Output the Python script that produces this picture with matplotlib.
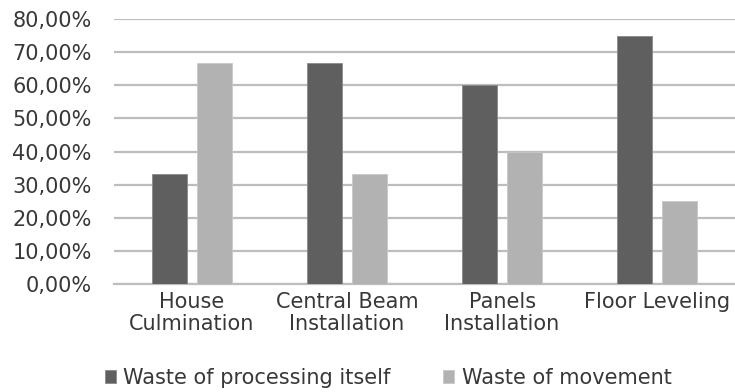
import matplotlib
matplotlib.use("Agg")
import matplotlib.pyplot as plt
import numpy as np
from matplotlib.ticker import FuncFormatter

categories = ["House\nCulmination", "Central Beam\nInstallation", "Panels\nInstallation", "Floor Leveling"]
series_names = ["Waste of processing itself", "Waste of movement"]
processing = [0.3333, 0.6667, 0.60, 0.75]
movement = [0.6667, 0.3333, 0.40, 0.25]
colors = ["#5f5f5f", "#b2b2b2"]

plt.rcParams["font.family"] = ["DejaVu Sans"]
fs = 15.0
fig = plt.figure(figsize=(7.35, 3.92), dpi=100)
ax = fig.add_axes([0.155, 0.2755, 0.845, 0.676])

x = np.arange(len(categories))
w = 0.225
gap = 0.065
b1 = ax.bar(x - (w + gap) / 2, processing, w, color=colors[0], edgecolor="#8a8a8a", linewidth=0.6,
            label=series_names[0], zorder=3)
b2 = ax.bar(x + (w + gap) / 2, movement, w, color=colors[1], edgecolor="#c8c8c8", linewidth=0.6,
            label=series_names[1], zorder=3)

ax.set_ylim(0, 0.8)
ax.set_xlim(-0.5, len(categories) - 0.5)
ax.set_yticks(np.arange(0, 0.81, 0.1))
ax.yaxis.set_major_formatter(FuncFormatter(lambda v, p: f"{v*100:.2f}%".replace(".", ",")))
ax.grid(axis="y", color="#bdbdbd", linewidth=1.6, zorder=0)
ax.set_axisbelow(True)
for s in ["top", "right", "left"]:
    ax.spines[s].set_visible(False)
ax.spines["bottom"].set_color("#bdbdbd")
ax.spines["bottom"].set_linewidth(1.6)
ax.tick_params(axis="y", length=0, pad=16, labelsize=fs, colors="#383838")
ax.tick_params(axis="x", length=0, pad=5.5, labelsize=fs, colors="#383838")
ax.set_xticks(x)
ax.set_xticklabels(categories, linespacing=1.12)

fig.legend(handles=[b1, b2], labels=series_names, loc="center", bbox_to_anchor=(0.528, 0.036),
           ncol=2, frameon=False, fontsize=fs, handlelength=0.55, handleheight=0.55,
           handletextpad=0.35, columnspacing=2.5, labelcolor="#383838")

fig.savefig("out.png", dpi=100)
